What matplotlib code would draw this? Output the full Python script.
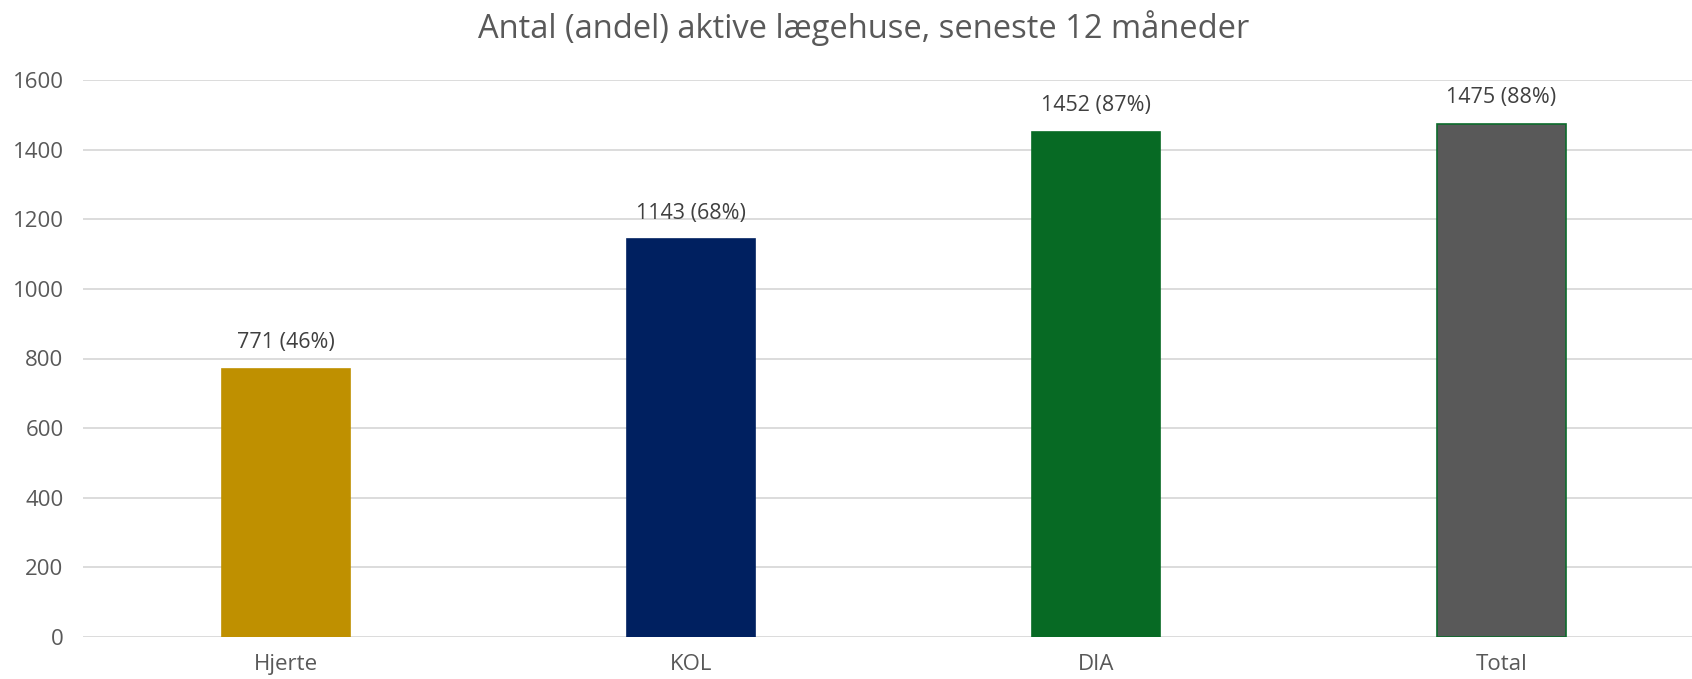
import matplotlib
matplotlib.use("Agg")
import matplotlib.pyplot as plt

categories = ["Hjerte", "KOL", "DIA", "Total"]
values = [771, 1143, 1452, 1475]
shares = [46, 68, 87, 88]
colors = ["#BF9000", "#002060", "#076A24", "#595959"]
edges = ["#BF9000", "#002060", "#076A24", "#0B6B2B"]
yticks = [0, 200, 400, 600, 800, 1000, 1200, 1400, 1600]
title = "Antal (andel) aktive lægehuse, seneste 12 måneder"

plt.rcParams['font.family'] = ['Open Sans', 'DejaVu Sans']
txt = "#595959"

fig = plt.figure(figsize=(16.92, 6.79), dpi=100)
ax = fig.add_axes([83/1692, 1-637/679, 1-83/1692, (637-80)/679])
x = list(range(len(categories)))
bars = ax.bar(x, values, width=0.316, color=colors, edgecolor=edges, linewidth=1.2, zorder=3)
for xi, v, s in zip(x, values, shares):
    ax.annotate(f"{v} ({s}%)", (xi, v), xytext=(0, 11), textcoords="offset points",
                ha="center", va="bottom", fontsize=15.5, color="#404040")
ax.set_xlim(-0.5, 3.47)
ax.set_ylim(0, 1600)
ax.set_yticks(yticks)
ax.set_xticks(x)
ax.set_xticklabels(categories)
ax.yaxis.grid(True, color="#D9D9D9", linewidth=1.3, zorder=0)
ax.set_axisbelow(True)
for sp in ax.spines.values():
    sp.set_visible(False)
ax.tick_params(axis="both", length=0, colors=txt, labelsize=16)
ax.tick_params(axis="y", pad=14)
ax.tick_params(axis="x", pad=12)
fig.text(864/1692, 1-28/679, title, ha="center", va="center", fontsize=23.5, color=txt)
fig.savefig("out.png", dpi=100)
